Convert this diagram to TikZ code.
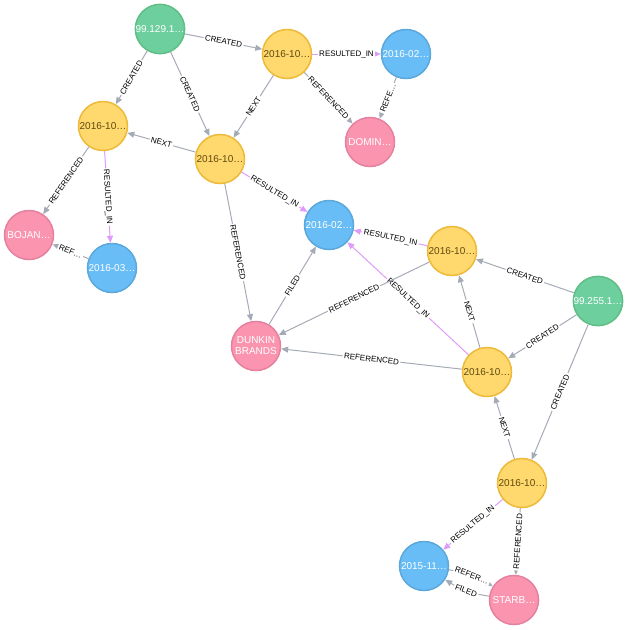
\documentclass[tikz,border=0pt]{standalone}
\usepackage{fontspec}
\setmainfont{Liberation Sans}
\usetikzlibrary{arrows.meta}

\definecolor{ipfill}{HTML}{6DCE9E}
\definecolor{ipline}{HTML}{60BE86}
\definecolor{evfill}{HTML}{FFD86E}
\definecolor{evline}{HTML}{EDBA39}
\definecolor{evtext}{HTML}{604A0E}
\definecolor{repfill}{HTML}{68BDF6}
\definecolor{repline}{HTML}{5CA8DB}
\definecolor{cofill}{HTML}{FB95AF}
\definecolor{coline}{HTML}{E581A0}
\definecolor{relgray}{HTML}{A5ABB6}
\definecolor{respurple}{HTML}{DE9BF9}

\begin{document}
\begin{tikzpicture}[%
      x=1pt, y=-1pt,
      nd/.style={circle, minimum size=49pt, inner sep=0pt, line width=1.5pt,
        text=white, align=center, font=\fontsize{10}{11}\selectfont},
      ipnode/.style={nd, fill=ipfill, draw=ipline},
      evnode/.style={nd, fill=evfill, draw=evline, text=evtext},
      repnode/.style={nd, fill=repfill, draw=repline},
      conode/.style={nd, fill=cofill, draw=coline},
      rel/.style={draw=relgray, line width=1pt, -{Triangle[length=7pt,width=6pt]}},
      res/.style={rel, draw=respurple},
      lbl/.style={midway, sloped, fill=white, inner sep=1.5pt, text=black,
        font=\fontsize{8}{9}\selectfont},
      ]
      \useasboundingbox (0,0) rectangle (627,630);

      \node [ipnode] (ip1) at (160,29) {99.129.1…};
      \node [ipnode] (ip2) at (598,301) {99.255.1…};

      \node [evnode] (ev1) at (287,54) {2016-10…};
      \node [evnode] (ev2) at (103,126) {2016-10…};
      \node [evnode] (ev3) at (220,159) {2016-10…};
      \node [evnode] (ev4) at (452,251) {2016-10…};
      \node [evnode] (ev5) at (487,372) {2016-10…};
      \node [evnode] (ev6) at (522,483) {2016-10…};

      \node [repnode] (rep1) at (406,54) {2016-02…};
      \node [repnode] (rep2) at (112,268) {2016-03…};
      \node [repnode] (rep3) at (329,225) {2016-02…};
      \node [repnode] (rep4) at (424,566) {2015-11…};

      \node [conode] (dom) at (370,142) {DOMIN…};
      \node [conode] (boj) at (29,235) {BOJAN…};
      \node [conode] (dunk) at (256,346) {DUNKIN\\BRANDS};
      \node [conode] (star) at (514,600) {STARB…};

      \draw [rel] (ip1) -- node[lbl] {CREATED} (ev1);
      \draw [rel] (ip1) -- node[lbl] {CREATED} (ev2);
      \draw [rel] (ip1) -- node[lbl] {CREATED} (ev3);
      \draw [rel] (ip2) -- node[lbl] {CREATED} (ev4);
      \draw [rel] (ip2) -- node[lbl] {CREATED} (ev5);
      \draw [rel] (ip2) -- node[lbl] {CREATED} (ev6);

      \draw [rel] (ev1) -- node[lbl] {NEXT} (ev3);
      \draw [rel] (ev3) -- node[lbl] {NEXT} (ev2);
      \draw [rel] (ev5) -- node[lbl] {NEXT} (ev4);
      \draw [rel] (ev6) -- node[lbl] {NEXT} (ev5);

      \draw [res] (ev1) -- node[lbl] {RESULTED\_IN} (rep1);
      \draw [res] (ev2) -- node[lbl] {RESULTED\_IN} (rep2);
      \draw [res] (ev3) -- node[lbl] {RESULTED\_IN} (rep3);
      \draw [res] (ev4) -- node[lbl] {RESULTED\_IN} (rep3);
      \draw [res] (ev5) -- node[lbl] {RESULTED\_IN} (rep3);
      \draw [res] (ev6) -- node[lbl] {RESULTED\_IN} (rep4);

      \draw [rel] (ev1) -- node[lbl] {REFERENCED} (dom);
      \draw [rel] (rep1) -- node[lbl] {REFE…} (dom);
      \draw [rel] (ev2) -- node[lbl] {REFERENCED} (boj);
      \draw [rel] (rep2) -- node[lbl] {REF…} (boj);
      \draw [rel] (ev3) -- node[lbl] {REFERENCED} (dunk);
      \draw [rel] (ev4) -- node[lbl] {REFERENCED} (dunk);
      \draw [rel] (ev5) -- node[lbl] {REFERENCED} (dunk);
      \draw [rel] (dunk) -- node[lbl] {FILED} (rep3);
      \draw [rel] (ev6) -- node[lbl] {REFERENCED} (star);
      \draw [rel] (rep4) to[bend left=12] node[lbl] {REFER…} (star);
      \draw [rel] (star) to[bend left=12] node[lbl] {FILED} (rep4);
\end{tikzpicture}
\end{document}
